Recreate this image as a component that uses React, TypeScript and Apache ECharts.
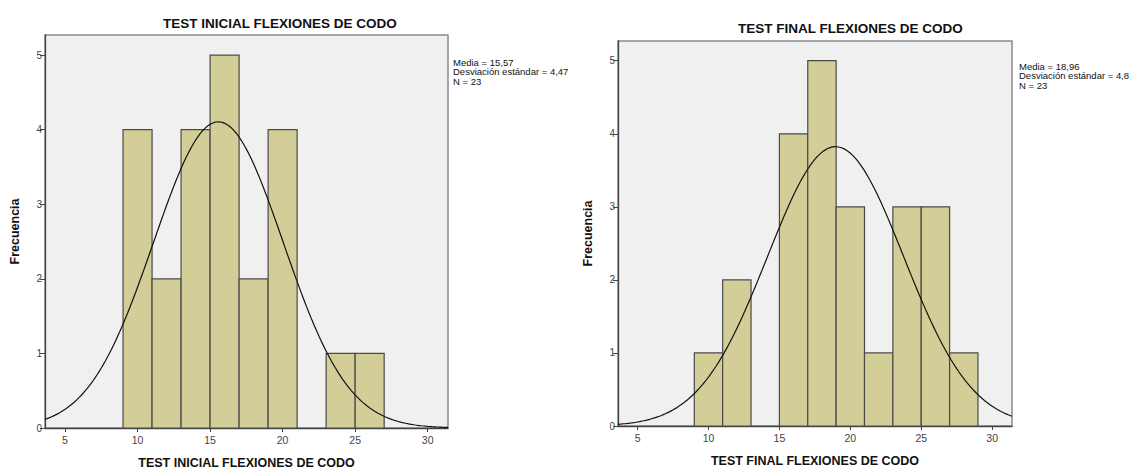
import React, { useEffect, useRef } from "react";
import * as echarts from "echarts";

const binEdgesLeft = [9, 11, 13, 15, 17, 19, 21, 23, 25, 27];
const countsLeft = [4, 2, 4, 5, 2, 4, 0, 1, 1];
const binEdgesRight = [9, 11, 13, 15, 17, 19, 21, 23, 25, 27, 29];
const countsRight = [1, 2, 0, 4, 5, 3, 1, 3, 3, 1];
const statsLeft = { mean: 15.57, sd: 4.47, n: 23 };
const statsRight = { mean: 18.96, sd: 4.8, n: 23 };
const xTicks = [5, 10, 15, 20, 25, 30];
const titleLeft = "TEST INICIAL FLEXIONES DE CODO";
const titleRight = "TEST FINAL FLEXIONES DE CODO";
const legendLeft = ["Media = 15,57", "Desviación estándar = 4,47", "N = 23"];
const legendRight = ["Media = 18,96", "Desviación estándar = 4,8", "N = 23"];

const X_MIN = 3.62;
const X_MAX = 31.4;
const Y_MAX = 5.27;

function bins(edges: number[], counts: number[]) {
  return counts
    .map((c, i) => [edges[i], edges[i + 1], c])
    .filter((d) => d[2] > 0);
}

function normalCurve(st: { mean: number; sd: number; n: number }, width: number) {
  const pts: number[][] = [];
  const steps = 200;
  for (let i = 0; i <= steps; i++) {
    const x = X_MIN + ((X_MAX - X_MIN) * i) / steps;
    const z = (x - st.mean) / st.sd;
    const y = (st.n * width * Math.exp(-0.5 * z * z)) / (st.sd * Math.sqrt(2 * Math.PI));
    pts.push([x, y]);
  }
  return pts;
}

const font = "Arial, 'Liberation Sans', sans-serif";

export default function App() {
  const ref = useRef<HTMLDivElement>(null);
  useEffect(() => {
    if (!ref.current) return;
    const chart = echarts.init(ref.current, null, { renderer: "svg" });
    const grids = [
      { left: 45, top: 35, width: 403, height: 393 },
      { left: 618, top: 41, width: 394, height: 385 },
    ];
    const xAxisBase = (gi: number, name: string) => ({
      type: "value",
      gridIndex: gi,
      min: X_MIN,
      max: X_MAX,
      interval: 5,
      splitLine: { show: false },
      axisLine: { show: true, onZero: false, lineStyle: { color: "#444", width: 1.3 } },
      axisTick: {
        show: true,
        length: 4,
        lineStyle: { color: "#444" },
        customValues: xTicks,
      },
      axisLabel: {
        color: "#444",
        fontSize: 10.5,
        fontFamily: font,
        margin: 6,
        customValues: xTicks,
        formatter: (v: number) => String(v),
      },
      name,
      nameLocation: "middle",
      nameGap: gi === 0 ? 28 : 28,
      nameTextStyle: { fontSize: 12.5, fontWeight: "bold", color: "#111", fontFamily: font },
    });
    const yAxisBase = (gi: number) => ({
      type: "value",
      gridIndex: gi,
      min: 0,
      max: Y_MAX,
      interval: 1,
      splitLine: { show: false },
      axisLine: { show: true, lineStyle: { color: "#444", width: 1.3 } },
      axisTick: { show: true, length: 5, lineStyle: { color: "#444" } },
      axisLabel: {
        color: "#444",
        fontSize: 10,
        fontFamily: font,
        margin: 3,
        showMaxLabel: false,
        formatter: (v: number) => (Number.isInteger(v) ? String(v) : ""),
      },
      name: "Frecuencia",
      nameLocation: "middle",
      nameGap: 24,
      nameTextStyle: { fontSize: 12.5, fontWeight: "bold", color: "#111", fontFamily: font },
    });
    const histSeries = (gi: number, data: number[][]) => ({
      type: "custom",
      xAxisIndex: gi,
      yAxisIndex: gi,
      data,
      renderItem: (params: any, api: any) => {
        const p0 = api.coord([api.value(0), 0]);
        const p1 = api.coord([api.value(1), api.value(2)]);
        return {
          type: "rect",
          shape: { x: p0[0], y: p1[1], width: p1[0] - p0[0], height: p0[1] - p1[1] },
          style: { fill: "#d3ce98", stroke: "#4a4a4a", lineWidth: 1.2 },
        };
      },
      z: 2,
    });
    const curveSeries = (gi: number, data: number[][]) => ({
      type: "line",
      xAxisIndex: gi,
      yAxisIndex: gi,
      data,
      showSymbol: false,
      symbol: "none",
      smooth: false,
      lineStyle: { color: "#111", width: 1.2 },
      z: 3,
    });
    const legendText = (x: number, y: number, lines: string[]) => ({
      type: "text",
      left: x,
      top: y,
      style: {
        text: lines.join("\n"),
        fontSize: 9.5,
        lineHeight: 9.5,
        fill: "#111",
        fontFamily: font,
      },
    });
    chart.setOption({
      animation: false,
      backgroundColor: "#ffffff",
      grid: grids.map((g) => ({
        ...g,
        show: true,
        outerBoundsMode: "none",
        containLabel: false,
        backgroundColor: "#f0f0f0",
        borderColor: "#8a8a8a",
        borderWidth: 1.5,
      })),
      xAxis: [xAxisBase(0, titleLeft), xAxisBase(1, titleRight)],
      yAxis: [yAxisBase(0), yAxisBase(1)],
      series: [
        histSeries(0, bins(binEdgesLeft, countsLeft)),
        curveSeries(0, normalCurve(statsLeft, 2)),
        histSeries(1, bins(binEdgesRight, countsRight)),
        curveSeries(1, normalCurve(statsRight, 2)),
      ],
      graphic: [
        {
          type: "text",
          left: 163,
          top: 16,
          style: { text: titleLeft, fontSize: 13.5, fontWeight: "bold", fill: "#111", fontFamily: font },
        },
        {
          type: "text",
          left: 738,
          top: 21,
          style: { text: titleRight, fontSize: 13.5, fontWeight: "bold", fill: "#111", fontFamily: font },
        },
        legendText(453, 57, legendLeft),
        legendText(1019, 61, legendRight),
      ],
    });
    return () => chart.dispose();
  }, []);
  return (
    <div
      ref={ref}
      style={{ position: "absolute", left: 0, top: 0, width: 1139, height: 470 }}
    />
  );
}
